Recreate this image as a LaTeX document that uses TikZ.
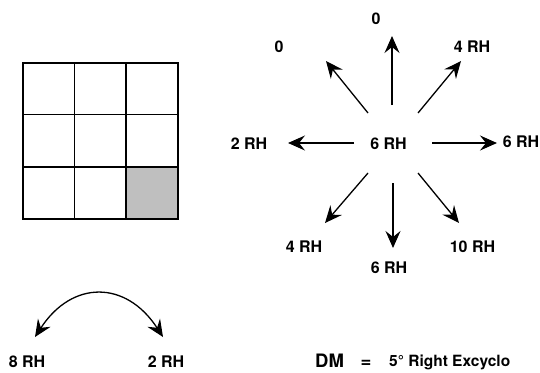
\documentclass[tikz,border=0pt]{standalone}
\usepackage{fontspec}
\setmainfont{TeX Gyre Heros}
\usetikzlibrary{arrows.meta}
\begin{document}
\begin{tikzpicture}[x=1pt,y=-1pt,
  lbl/.style={font=\fontsize{16}{18}\selectfont\bfseries, inner sep=0pt},
  arr/.style={line width=1.3pt, -{Stealth[length=17pt,width=15pt,inset=6pt]}},
  gridline/.style={line width=1.2pt}]
\useasboundingbox (0,0) rectangle (540,372);
% grid
\fill[black!25] (126,167) rectangle (178,219);
\draw[gridline] (23,63) rectangle (178,219);
\draw[gridline] (74.5,63) -- (74.5,219);
\draw[gridline] (126,63) -- (126,219);
\draw[gridline] (23,114.5) -- (178,114.5);
\draw[gridline] (23,167) -- (178,167);
% star labels
\node[lbl] (c) at (388.5,144) {6 RH};
\node[lbl] (ln) at (376,18.5) {0};
\node[lbl] (lnw) at (279,47) {0};
\node[lbl] (lne) at (472,47) {4 RH};
\node[lbl] (lw) at (249,144) {2 RH};
\node[lbl] (le) at (521,142) {6 RH};
\node[lbl] (lsw) at (304,247) {4 RH};
\node[lbl] (ls) at (389,268) {6 RH};
\node[lbl] (lse) at (472.5,247) {10 RH};
% arrow ends
\coordinate (sn) at (392,105);  \coordinate (tn) at (392,36);
\coordinate (snw) at (368,113); \coordinate (tnw) at (326,61);
\coordinate (sne) at (418,113); \coordinate (tne) at (461,61);
\coordinate (sw) at (354,143);  \coordinate (tw) at (288,143);
\coordinate (se) at (432,143);  \coordinate (te) at (497,143);
\coordinate (ssw) at (368,173); \coordinate (tsw) at (325,223);
\coordinate (ss) at (393,183);  \coordinate (ts) at (393,248);
\coordinate (sse) at (418,173); \coordinate (tse) at (459,223);
\draw[arr] (sn) -- (tn);
\draw[arr] (snw) -- (tnw);
\draw[arr] (sne) -- (tne);
\draw[arr] (sw) -- (tw);
\draw[arr] (se) -- (te);
\draw[arr] (ssw) -- (tsw);
\draw[arr] (ss) -- (ts);
\draw[arr] (sse) -- (tse);
% bottom
\node[lbl] (b8) at (27,362) {8 RH};
\node[lbl] (b2) at (166,362) {2 RH};
\coordinate (al) at (35,337);
\coordinate (ar) at (163,337);
\draw[line width=1.3pt, {Stealth[length=17pt,width=15pt,inset=6pt]}-{Stealth[length=17pt,width=15pt,inset=6pt]}]
  (al) .. controls (72,280) and (126,280) .. (ar);
\node[font=\fontsize{18.5}{20}\selectfont\bfseries, inner sep=0pt, anchor=west] (dm) at (315,361) {DM};
\node[font=\fontsize{18.5}{20}\selectfont\bfseries, inner sep=0pt] (eq) at (366,364) {=};
\node[font=\fontsize{15.5}{18}\selectfont\bfseries, inner sep=0pt, anchor=west] (ex) at (389,362) {5° Right Excyclo};
\end{tikzpicture}
\end{document}
